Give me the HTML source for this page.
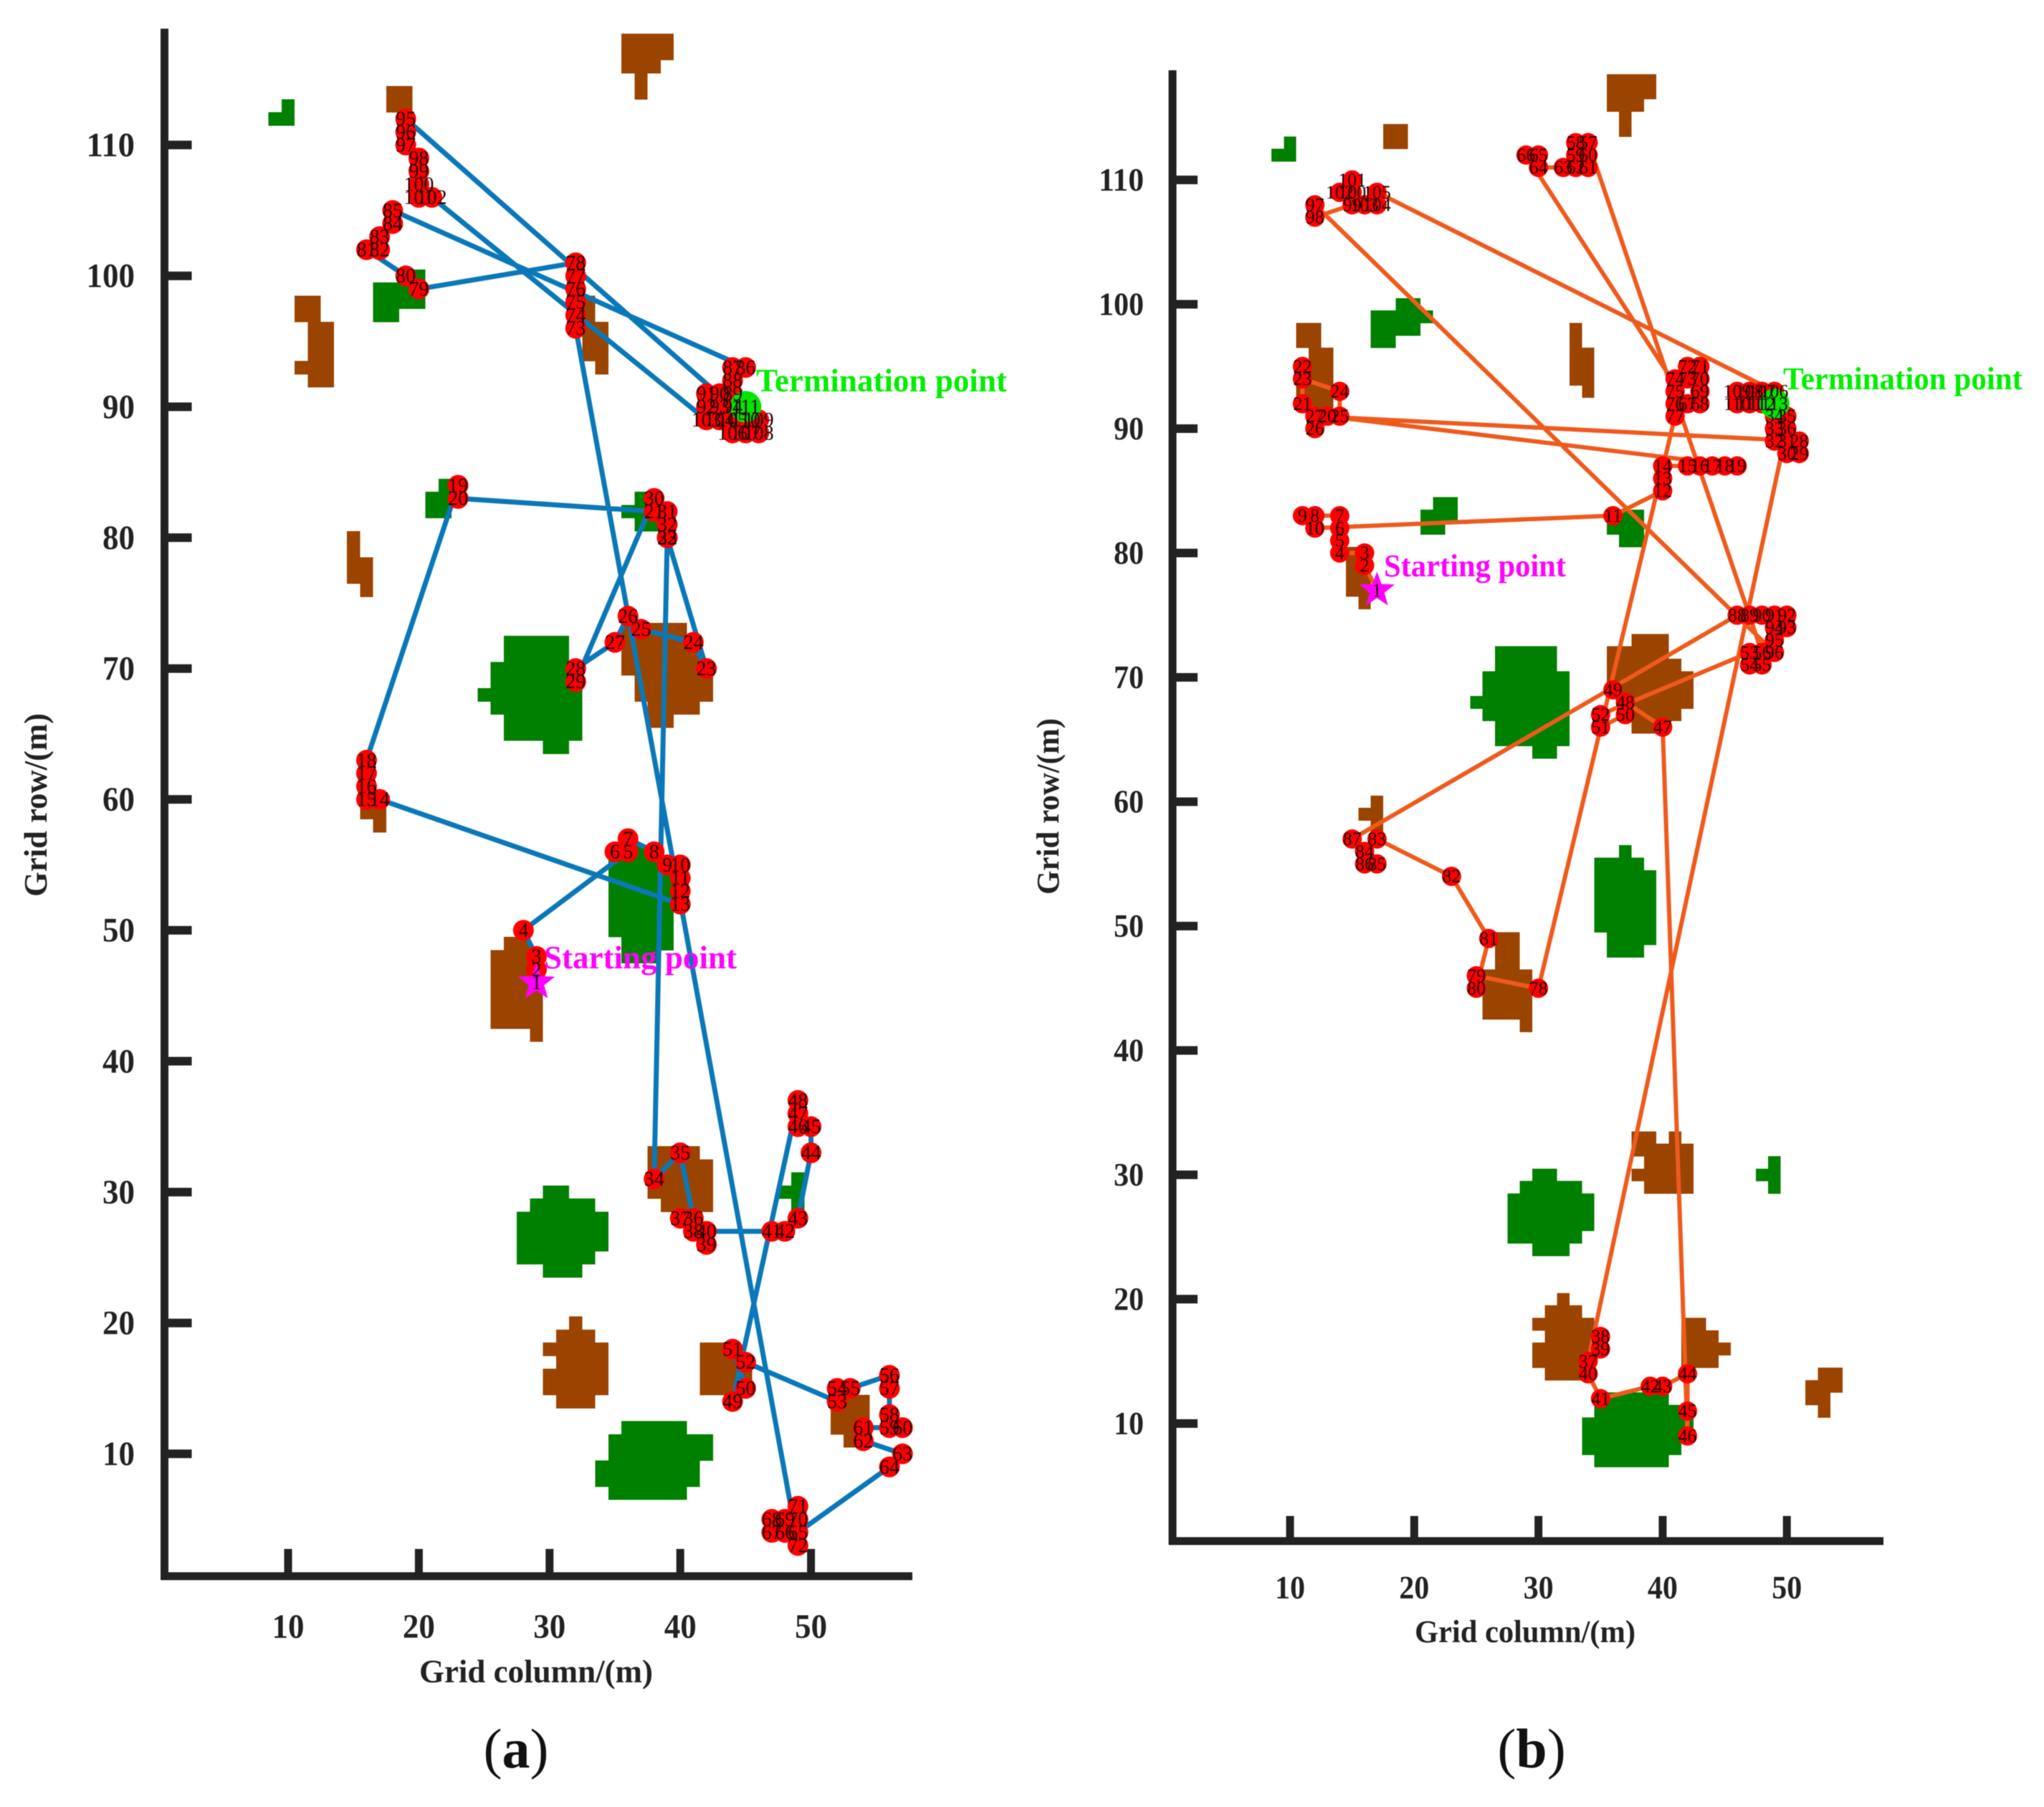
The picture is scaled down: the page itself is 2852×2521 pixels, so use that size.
<!DOCTYPE html>
<html lang="en">
<head>
<meta charset="utf-8">
<title>Grid path planning comparison</title>
<style>
html,body{margin:0;padding:0;background:#fff;}
body{width:2852px;height:2521px;overflow:hidden;}
svg{display:block;filter:blur(0.6px);}
text{font-family:"Liberation Serif",serif;}
</style>
</head>
<body>
<svg id="fig" xmlns="http://www.w3.org/2000/svg" width="2852" height="2521" viewBox="0 0 2852 2521">
  <g id="panelA"></g>
  <g id="panelB"></g>
  <text x="720" y="2466" font-size="78" text-anchor="middle" fill="#111">(<tspan font-weight="bold">a</tspan>)</text>
  <text x="2137" y="2466" font-size="78" text-anchor="middle" fill="#111">(<tspan font-weight="bold">b</tspan>)</text>
</svg>
<script>
// ---------- shared tick values ----------
const xTicks = [10, 20, 30, 40, 50];
const yTicks = [10, 20, 30, 40, 50, 60, 70, 80, 90, 100, 110];

// ---------- panel (a): path visiting order, label = position + 1 ----------
const colsA = [29,29,29,28,36,35,36,38,39,40,40,40,40,17,16,16,16,16,23,23,38,39,42,41,37,36,35,32,32,38,39,39,39,38,40,41,40,41,42,42,47,48,49,50,50,49,49,49,44,45,44,45,52,52,53,56,56,56,56,57,54,54,57,56,49,48,47,47,48,49,49,49,32,32,32,32,32,32,20,19,16,17,17,18,18,45,44,44,44,43,42,42,43,44,19,19,19,20,20,20,20,21,42,43,44,44,45,46,46,45,45];
const rowsA = [46,47,48,50,56,56,57,56,55,55,54,53,52,60,60,61,62,63,84,83,82,80,70,72,73,74,72,70,69,83,82,81,80,31,33,28,28,27,26,27,27,27,28,33,35,35,36,37,14,15,18,17,14,15,15,16,15,13,12,12,12,11,10,9,4,4,4,5,5,5,6,3,96,97,98,99,100,101,99,100,102,102,103,104,105,93,93,92,91,91,91,90,90,90,112,111,110,109,108,107,106,106,89,89,89,88,88,88,89,89,90];

// ---------- panel (b): path visiting order, label = position + 1 ----------
const colsB = [17,16,16,14,14,14,14,12,11,12,36,40,40,40,42,43,44,45,46,13,11,11,11,14,14,12,12,51,51,50,50,49,49,49,50,50,34,35,35,34,35,39,40,42,42,42,40,37,36,37,35,35,47,47,48,48,34,33,33,34,34,33,32,30,30,29,42,43,43,43,43,42,42,41,41,41,41,30,25,25,26,23,17,16,17,16,15,46,47,48,49,50,50,49,49,49,12,12,15,15,15,14,16,17,17,49,48,47,46,46,47,48,49];
const rowsB = [77,79,80,80,81,82,83,83,83,82,83,85,86,87,87,87,87,87,87,91,92,95,94,93,91,90,91,89,88,88,89,89,90,91,91,90,15,17,16,14,12,13,13,14,11,9,66,68,69,67,66,67,72,71,71,72,113,113,112,112,111,111,111,111,112,112,92,92,93,94,95,95,94,94,93,92,91,45,46,45,49,54,57,56,55,55,57,75,75,75,75,75,74,74,73,72,108,107,108,109,110,109,108,108,109,93,93,93,93,92,92,92,92];

// ---------- obstacle grid runs: row, first column, last column ----------
const brownA = [
 [118,36,39],[117,36,39],[116,36,38],[115,37,37],[114,37,37],
 [114,18,19],[113,18,19],
 [98,11,12],[97,11,12],[96,12,13],[95,12,13],[94,12,13],[93,11,13],[92,12,13],
 [98,33,33],[97,33,33],[96,33,34],[95,33,34],[94,33,34],[93,34,34],
 [80,15,15],[79,15,15],[78,15,16],[77,15,16],[76,16,16],
 [73,36,40],[72,36,40],[71,36,41],[70,36,42],[69,37,42],[68,37,42],[67,38,41],[66,38,39],
 [61,16,16],[60,16,17],[59,16,17],[58,17,17],
 [49,27,28],[48,26,29],[47,26,29],[46,26,29],[45,26,29],[44,26,29],[43,26,29],[42,29,29],
 [33,38,41],[32,38,42],[31,38,42],[30,38,42],[29,39,42],
 [20,32,32],[19,31,33],[18,30,34],[17,31,34],[16,30,34],[15,30,34],[14,31,33],
 [18,42,44],[17,42,45],[16,42,45],[15,42,45],
 [14,52,54],[13,52,54],[12,52,54],[11,53,54]
];
const greenA = [
 [113,10,10],[112,9,10],
 [100,19,20],[99,17,20],[98,17,20],[97,17,18],
 [84,22,22],[83,21,22],[82,21,22],
 [83,37,38],[82,36,38],[81,37,38],
 [72,27,31],[71,27,31],[70,26,32],[69,26,32],[68,25,32],[67,26,32],[66,27,32],[65,27,32],[64,30,31],
 [56,36,38],[55,35,39],[54,35,39],[53,35,39],[52,35,39],[51,35,39],[50,35,39],[49,36,39],[48,36,38],
 [30,30,31],[29,29,33],[28,28,34],[27,28,34],[26,28,34],[25,28,33],[24,30,32],
 [31,49,49],[30,48,49],[29,49,49],[28,49,49],
 [12,36,40],[11,35,42],[10,35,42],[9,34,41],[8,34,41],[7,35,40]
];
const brownB = [
 [118,36,39],[117,36,39],[116,36,38],[115,37,37],[114,37,37],
 [114,18,19],[113,18,19],
 [98,11,12],[97,11,12],[96,12,13],[95,12,13],[94,12,13],[93,11,13],[92,12,13],
 [98,33,33],[97,33,33],[96,33,34],[95,33,34],[94,33,34],[93,34,34],
 [80,15,15],[79,15,15],[78,15,16],[77,15,16],[76,16,16],
 [73,38,40],[72,36,40],[71,36,41],[70,36,42],[69,36,42],[68,37,42],[67,38,41],[66,38,40],
 [60,17,17],[59,16,17],[58,17,17],[57,17,17],
 [49,27,28],[48,27,28],[47,27,28],[46,26,29],[45,26,29],[44,26,29],[43,26,29],[42,29,29],
 [33,38,39],[33,41,41],[32,38,42],[31,39,42],[30,38,42],[29,39,42],
 [20,32,32],[19,31,33],[18,30,34],[17,31,34],[16,30,34],[15,30,34],[14,31,33],
 [18,42,43],[17,42,44],[16,42,45],[15,42,44],
 [14,53,54],[13,52,54],[12,52,53],[11,53,53]
];
const greenB = [
 [113,10,10],[112,9,10],
 [100,19,20],[99,17,21],[98,17,20],[97,17,18],
 [84,22,23],[83,21,23],[82,21,22],
 [83,36,38],[82,36,38],[81,37,38],
 [72,27,31],[71,27,31],[70,26,32],[69,26,32],[68,25,32],[67,26,32],[66,27,32],[65,27,32],[64,30,31],
 [56,37,37],[55,35,38],[54,35,39],[53,35,39],[52,35,39],[51,35,39],[50,35,39],[49,36,39],[48,36,38],
 [30,30,31],[29,29,33],[28,28,34],[27,28,34],[26,28,34],[25,28,33],[24,30,32],
 [31,49,49],[30,48,49],[29,49,49],
 [12,36,40],[11,35,42],[10,34,42],[9,34,41],[8,34,41],[7,35,40]
];

const SVGNS = 'http://www.w3.org/2000/svg';
function add(parent, tag, attrs, txt) {
  const el = document.createElementNS(SVGNS, tag);
  for (const k in attrs) el.setAttribute(k, attrs[k]);
  if (txt !== undefined) el.textContent = txt;
  parent.appendChild(el);
  return el;
}
function starPoints(cx, cy, R) {
  const r = R * 0.42, out = [];
  for (let i = 0; i < 10; i++) {
    const a = -Math.PI / 2 + i * Math.PI / 5, q = i % 2 ? r : R;
    out.push((cx + q * Math.cos(a)).toFixed(1) + ',' + (cy + q * Math.sin(a)).toFixed(1));
  }
  return out.join(' ');
}

function drawPanel(root, p) {
  const X = c => p.x10 + (c - 10) * p.ux;
  const Y = r => p.y10 - (r - 10) * p.uy;

  const drawRuns = (runs, fill, name) => {
    runs.forEach(run => {
      const rect = add(root, 'rect', {
        x: X(run[1] - 0.5), y: Y(run[0] + 0.5),
        width: X(run[2] + 0.5) - X(run[1] - 0.5), height: p.uy + 0.5,
        fill: fill, 'shape-rendering': 'crispEdges'
      });
      
      
    });
  };
  drawRuns(p.brown, '#9b4400', 'obstacle-brown-cell');
  drawRuns(p.green, '#008000', 'obstacle-green-cell');

  // axes
  const yAxis = add(root, 'line', {x1: p.ax, x2: p.ax, y1: p.top, y2: p.bottom + 5, stroke: '#222', 'stroke-width': 11});
  
  
  const xAxis = add(root, 'line', {x1: p.ax - 5, x2: p.right, y1: p.bottom, y2: p.bottom, stroke: '#222', 'stroke-width': 11});
  
  

  yTicks.forEach(v => {
    const t = add(root, 'line', {x1: p.ax, x2: p.ax + p.tick, y1: Y(v), y2: Y(v), stroke: '#222', 'stroke-width': 12});
    
    
    const s = String(v);
    const l = add(root, 'text', {x: p.yLabelRight, y: Y(v) + p.tickFont * 0.33, 'font-size': p.tickFont, 'font-weight': 'bold', 'text-anchor': 'end', fill: '#222', textLength: s.length * p.digitW, lengthAdjust: 'spacingAndGlyphs'}, s);
    
    
  });
  xTicks.forEach(v => {
    const t = add(root, 'line', {x1: X(v), x2: X(v), y1: p.bottom, y2: p.bottom - p.tick, stroke: '#222', 'stroke-width': 11});
    
    
    const s = String(v);
    const l = add(root, 'text', {x: X(v), y: p.xLabelY + p.tickFont * 0.33, 'font-size': p.tickFont, 'font-weight': 'bold', 'text-anchor': 'middle', fill: '#222', textLength: s.length * p.digitW, lengthAdjust: 'spacingAndGlyphs'}, s);
    
    
  });

  const xt = add(root, 'text', {x: p.xTitle[0], y: p.xTitle[1], 'font-size': p.titleFont, 'font-weight': 'bold', 'text-anchor': 'middle', fill: '#222', textLength: p.xTitle[2], lengthAdjust: 'spacingAndGlyphs'}, 'Grid column/(m)');
  
  
  const yt = add(root, 'text', {transform: 'translate(' + p.yTitle[0] + ',' + p.yTitle[1] + ') rotate(-90)', 'font-size': p.titleFont, 'font-weight': 'bold', 'text-anchor': 'middle', fill: '#222', textLength: p.yTitle[2], lengthAdjust: 'spacingAndGlyphs'}, 'Grid row/(m)');
  
  

  // path line
  const pts = p.cols.map((c, i) => X(c).toFixed(1) + ',' + Y(p.rows[i]).toFixed(1)).join(' ');
  const path = add(root, 'polyline', {points: pts, fill: 'none', stroke: p.lineColor, 'stroke-width': p.lineWidth, 'stroke-linejoin': 'round'});
  
  

  // markers
  const n = p.cols.length;
  p.cols.forEach((c, i) => {
    if (i === 0 || i === n - 1) return;
    const m = add(root, 'circle', {cx: X(c), cy: Y(p.rows[i]), r: p.markerR, fill: '#ff0000'});
    
    
  });
  const end = add(root, 'circle', {cx: X(p.cols[n - 1]), cy: Y(p.rows[n - 1]), r: p.endR, fill: '#00e600'});
  
  
  const star = add(root, 'polygon', {points: starPoints(X(p.cols[0]), Y(p.rows[0]), p.starR), fill: '#ff00ff'});
  
  

  // order labels
  p.cols.forEach((c, i) => {
    const t = add(root, 'text', {x: X(c), y: Y(p.rows[i]) + p.idFont * 0.33, 'font-size': p.idFont, 'text-anchor': 'middle', fill: '#200'}, String(i + 1));
    
    
  });

  const s = add(root, 'text', {x: p.startText[0], y: p.startText[1], 'font-size': p.annFont, 'font-weight': 'bold', fill: '#ff00ff', textLength: p.startText[2], lengthAdjust: 'spacingAndGlyphs'}, 'Starting point');
  
  
  const e = add(root, 'text', {x: p.endText[0], y: p.endText[1], 'font-size': p.annFont, 'font-weight': 'bold', fill: '#00ee00', textLength: p.endText[2], lengthAdjust: 'spacingAndGlyphs'}, 'Termination point');
  
  
}

drawPanel(document.getElementById('panelA'), {
  cols: colsA, rows: rowsA, brown: brownA, green: greenA,
  x10: 402, ux: 18.24, y10: 2028.3, uy: 18.26,
  ax: 229.5, top: 40, bottom: 2199, right: 1273, tick: 38,
  yLabelRight: 188, xLabelY: 2269, tickFont: 48, digitW: 22.5, titleFont: 46,
  xTitle: [748, 2347, 326], yTitle: [65, 1123, 256],
  lineColor: '#0a78b8', lineWidth: 7, markerR: 14.5, endR: 22, starR: 27, idFont: 28,
  annFont: 46, startText: [759, 1351, 269], endText: [1055, 546, 350]
});
drawPanel(document.getElementById('panelB'), {
  cols: colsB, rows: rowsB, brown: brownB, green: greenB,
  x10: 1800, ux: 17.33, y10: 1986, uy: 17.35,
  ax: 1636, top: 98, bottom: 2150, right: 2628, tick: 35,
  yLabelRight: 1596, xLabelY: 2215, tickFont: 45, digitW: 21, titleFont: 44,
  xTitle: [2128, 2291, 308], yTitle: [1477, 1125, 246],
  lineColor: '#ef5a1c', lineWidth: 6, markerR: 13.5, endR: 21, starR: 26, idFont: 26,
  annFont: 44, startText: [1931, 804, 254], endText: [2488, 543, 334]
});
</script>
</body>
</html>
